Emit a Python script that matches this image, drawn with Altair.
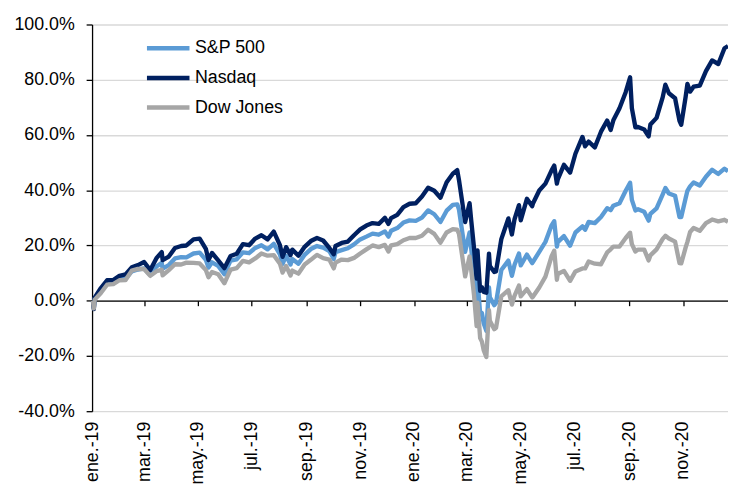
import altair as alt
import pandas as pd

# ---- data (percent change since 2 Jan 2019) ----
dates = [
    "2019/01/02", "2019/01/03", "2019/01/04", "2019/01/11", "2019/01/18", "2019/01/25",
    "2019/02/01", "2019/02/08", "2019/02/15", "2019/02/22", "2019/03/01", "2019/03/08",
    "2019/03/15", "2019/03/21", "2019/03/22", "2019/03/29", "2019/04/05", "2019/04/12",
    "2019/04/18", "2019/04/26", "2019/05/03", "2019/05/10", "2019/05/13", "2019/05/17",
    "2019/05/24", "2019/05/31", "2019/06/07", "2019/06/14", "2019/06/21", "2019/06/28",
    "2019/07/05", "2019/07/12", "2019/07/19", "2019/07/26", "2019/08/02", "2019/08/05",
    "2019/08/09", "2019/08/14", "2019/08/16", "2019/08/23", "2019/08/30", "2019/09/06",
    "2019/09/13", "2019/09/20", "2019/09/27", "2019/10/02", "2019/10/04", "2019/10/11",
    "2019/10/18", "2019/10/25", "2019/11/01", "2019/11/08", "2019/11/15", "2019/11/22",
    "2019/11/29", "2019/12/03", "2019/12/06", "2019/12/13", "2019/12/20", "2019/12/27",
    "2020/01/03", "2020/01/10", "2020/01/17", "2020/01/24", "2020/01/31", "2020/02/07",
    "2020/02/14", "2020/02/19", "2020/02/21", "2020/02/28", "2020/03/04", "2020/03/06",
    "2020/03/09", "2020/03/12", "2020/03/13", "2020/03/16", "2020/03/18", "2020/03/20",
    "2020/03/23", "2020/03/26", "2020/03/27", "2020/04/01", "2020/04/03", "2020/04/09",
    "2020/04/17", "2020/04/21", "2020/04/24", "2020/04/29", "2020/05/01", "2020/05/08",
    "2020/05/14", "2020/05/15", "2020/05/22", "2020/05/29", "2020/06/05", "2020/06/08",
    "2020/06/11", "2020/06/12", "2020/06/19", "2020/06/26", "2020/07/02", "2020/07/10",
    "2020/07/13", "2020/07/17", "2020/07/24", "2020/07/31", "2020/08/07", "2020/08/11",
    "2020/08/14", "2020/08/21", "2020/08/28", "2020/09/02", "2020/09/04", "2020/09/08",
    "2020/09/11", "2020/09/18", "2020/09/23", "2020/09/25", "2020/10/02", "2020/10/09",
    "2020/10/12", "2020/10/16", "2020/10/23", "2020/10/28", "2020/10/30", "2020/11/04",
    "2020/11/06", "2020/11/09", "2020/11/13", "2020/11/20", "2020/11/27", "2020/12/04",
    "2020/12/11", "2020/12/18", "2020/12/22",
]

sp500 = [
    0.0, -2.5, 0.9, 3.4, 6.4, 6.2,
    7.8, 7.9, 10.6, 11.3, 11.7, 9.3,
    12.4, 13.7, 11.6, 12.9, 15.3, 15.8,
    15.7, 17.1, 17.4, 14.8, 12.0, 13.9,
    12.6, 9.6, 14.5, 15.0, 17.5, 17.2,
    19.1, 20.1, 18.6, 20.6, 16.8, 13.3,
    16.3, 13.1, 15.1, 13.4, 16.6, 18.7,
    19.8, 19.2, 18.0, 15.1, 17.6, 18.3,
    19.0, 20.4, 22.2, 23.2, 24.3, 23.9,
    25.1, 23.2, 25.3, 26.3, 28.3, 29.1,
    28.9, 30.1, 32.7, 31.3, 28.5, 32.6,
    34.7, 34.9, 33.0, 17.7, 24.7, 18.4,
    9.4, -1.2, 8.0, -4.9, -4.5, -8.2,
    -10.9, 4.8, 1.2, -1.6, -0.8, 11.1,
    14.5, 9.0, 13.0, 17.1, 12.8, 16.7,
    13.6, 14.1, 17.7, 21.3, 27.3, 28.8,
    19.6, 21.2, 23.4, 19.9, 24.7, 26.9,
    25.7, 28.5, 28.1, 30.3, 33.5, 32.8,
    34.4, 35.3, 39.8, 42.7, 36.5, 32.7,
    33.1, 32.2, 29.0, 31.4, 33.4, 38.5,
    40.8, 38.8, 38.0, 30.3, 30.3, 37.2,
    39.8, 41.4, 42.8, 41.7, 44.9, 47.4,
    45.9, 47.8, 46.9,
]

nasdaq = [
    0.0, -3.0, 1.1, 4.6, 7.4, 7.5,
    9.0, 9.5, 12.1, 12.9, 14.0, 11.1,
    15.4, 17.6, 14.7, 16.0, 19.1, 19.8,
    20.0, 22.2, 22.5, 18.8, 14.7, 17.3,
    14.6, 11.8, 16.2, 17.0, 20.5, 20.1,
    22.5, 23.7, 22.2, 25.0, 20.1, 15.9,
    19.4, 16.5, 18.5, 16.3, 19.5, 21.6,
    22.7, 21.8, 19.1, 16.8, 19.8, 20.9,
    21.4, 23.7, 25.8, 27.2, 28.1, 27.8,
    30.0, 27.8, 29.9, 31.1, 33.9, 35.1,
    35.3, 37.7, 40.9, 39.8, 37.3, 42.9,
    46.0, 47.3, 43.7, 28.5, 35.3, 28.7,
    19.3, 8.0, 18.2, 3.6, 4.9, 3.2,
    2.9, 17.0, 12.6, 10.4, 10.6, 22.3,
    29.8, 24.0, 29.5, 34.6, 29.1, 36.9,
    34.2, 35.3, 39.9, 42.4, 47.2, 48.9,
    42.4, 43.9, 49.2, 46.4, 53.2, 59.3,
    55.9, 57.6, 55.5, 61.2, 65.2, 61.8,
    65.3, 69.7, 75.5, 80.9, 69.7, 62.8,
    62.9, 62.0, 59.5, 63.8, 66.2, 73.7,
    78.2, 75.1, 73.3, 65.1, 63.7, 73.9,
    78.5, 75.7, 77.5, 77.9, 83.1, 87.0,
    85.7, 91.4, 92.2,
]

dow = [
    0.0, -2.8, 0.4, 2.8, 5.8, 6.0,
    7.4, 7.5, 10.9, 11.5, 11.5, 9.0,
    10.7, 11.2, 9.2, 11.1, 13.2, 13.1,
    13.8, 13.7, 13.5, 11.1, 8.5, 10.4,
    9.6, 6.3, 11.3, 11.8, 14.4, 13.9,
    15.3, 17.1, 16.3, 16.5, 13.4, 10.2,
    12.6, 9.1, 10.9, 9.8, 13.1, 14.8,
    16.6, 15.4, 14.9, 11.7, 13.8, 14.9,
    14.7, 15.5, 17.1, 18.6, 20.0, 19.4,
    20.2, 17.8, 20.0, 20.5, 21.9, 22.7,
    22.7, 23.5, 25.7, 24.2, 21.0, 24.7,
    25.9, 25.7, 24.2, 8.8, 16.0, 10.8,
    2.2, -9.2, -0.7, -13.5, -14.8, -17.9,
    -20.4, -3.4, -7.3, -10.3, -9.8, 1.6,
    3.8, -1.4, 1.8, 5.5, 1.6, 4.2,
    1.2, 1.5, 4.8, 8.7, 16.1, 18.1,
    7.6, 9.7, 10.8, 7.2, 10.6, 11.7,
    11.7, 14.2, 13.4, 13.2, 17.5, 18.6,
    19.6, 19.6, 22.7, 24.6, 20.5, 17.8,
    18.5, 18.5, 14.6, 16.4, 18.6, 22.4,
    23.5, 22.5, 21.4, 13.6, 13.5, 19.3,
    21.3, 24.9, 26.3, 25.3, 28.1, 29.4,
    28.7, 29.3, 28.6,
]

series_names = ["S&P 500", "Nasdaq", "Dow Jones"]
series_colors = ["#5B9BD5", "#002060", "#A6A6A6"]
y_ticks = [-40, -20, 0, 20, 40, 60, 80, 100]
x_tick_months = [(2019, 1), (2019, 3), (2019, 5), (2019, 7), (2019, 9), (2019, 11),
                 (2020, 1), (2020, 3), (2020, 5), (2020, 7), (2020, 9), (2020, 11)]
month_names = ["ene.", "feb.", "mar.", "abr.", "may.", "jun.",
               "jul.", "ago.", "sep.", "oct.", "nov.", "dic."]

rows = []
for name, vals in zip(series_names, [sp500, nasdaq, dow]):
    for d, v in zip(dates, vals):
        rows.append({"date": d, "series": name, "value": v})
df = pd.DataFrame(rows)

FONT = "Liberation Sans"
PLOT_W, PLOT_H = 643, 391
Y_MIN, Y_MAX = -40, 100

x_scale = alt.Scale(domain=[alt.DateTime(year=2019, month=1, date=1),
                            alt.DateTime(year=2020, month=12, date=22)])
y_scale = alt.Scale(domain=[Y_MIN, Y_MAX], nice=False, zero=False)
tick_values = [alt.DateTime(year=y, month=m, date=1) for y, m in x_tick_months]

month_js = "[" + ",".join("'%s'" % m for m in month_names) + "]"
x_label_expr = month_js + "[month(datum.value)] + '-' + timeFormat(datum.value, '%y')"

axis_labels = alt.Axis(
    orient="bottom", values=tick_values, labelExpr=x_label_expr, labelAngle=-90,
    domain=False, ticks=False, grid=False, labelFont=FONT, labelFontSize=18,
    labelColor="black", labelPadding=10, labelOverlap=False, labelFlush=False,
    title=None,
)
zero_offset = -PLOT_H * (0 - Y_MIN) / (Y_MAX - Y_MIN)
axis_zero = alt.Axis(
    orient="bottom", values=tick_values, labels=False, grid=False,
    domain=True, domainColor="black", domainWidth=1.3,
    ticks=True, tickColor="black", tickSize=5, tickWidth=1.3,
    offset=zero_offset, title=None,
)

y_axis = alt.Axis(
    values=y_ticks, labelExpr="replace(format(datum.value, '.1f'), '\u2212', '-') + '%'",
    domain=True, domainColor="black", domainWidth=1.3,
    ticks=True, tickColor="black", tickSize=6, tickWidth=1.3,
    grid=True, gridColor="#D9D9D9", gridWidth=1.3,
    labelFont=FONT, labelFontSize=18, labelColor="black", labelPadding=12,
    title=None,
)

legend = alt.Legend(
    orient="none", legendX=53, legendY=10, title=None, direction="vertical",
    symbolType="stroke", symbolSize=1849, symbolStrokeWidth=4.5,
    labelFont=FONT, labelFontSize=18, labelColor="black", labelOffset=3,
    clipHeight=28, rowPadding=2, padding=0,
)

lines = alt.Chart(df).mark_line(strokeWidth=4.4, strokeJoin="round").encode(
    x=alt.X("date:T", scale=x_scale, axis=axis_labels),
    y=alt.Y("value:Q", scale=y_scale, axis=y_axis),
    color=alt.Color("series:N",
                    scale=alt.Scale(domain=series_names, range=series_colors),
                    legend=legend, sort=series_names),
)

zero_axis_layer = alt.Chart(df).mark_point(opacity=0).encode(
    x=alt.X("date:T", scale=x_scale, axis=axis_zero),
)

chart = alt.layer(lines, zero_axis_layer).resolve_axis(x="independent").properties(
    width=PLOT_W, height=PLOT_H,
    padding={"left": 85, "top": 14, "right": 0, "bottom": 78},
    autosize=alt.AutoSizeParams(type="none"),
).configure_view(stroke=None)

chart.save("out.html", embed_options={"renderer": "svg", "actions": False})
